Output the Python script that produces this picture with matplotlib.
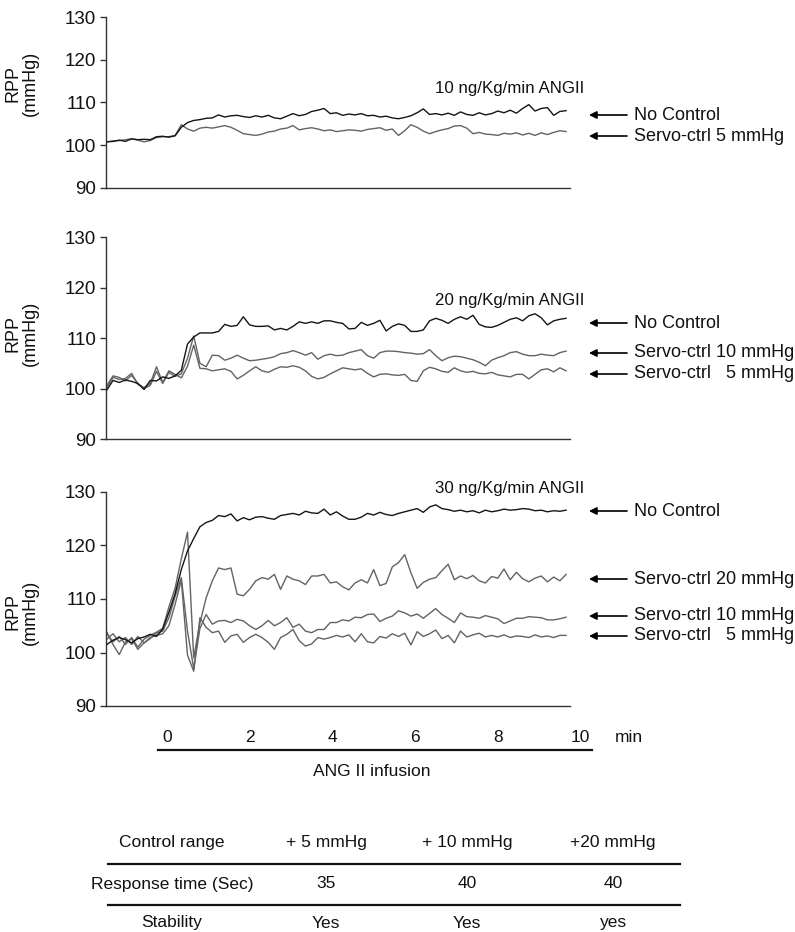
import numpy as np
import matplotlib
matplotlib.use("Agg")
import matplotlib.pyplot as plt
from matplotlib.lines import Line2D
from matplotlib.transforms import blended_transform_factory

plt.rcParams['font.family'] = ['Liberation Sans', 'DejaVu Sans']

# ---------------- data ----------------
time_min = np.linspace(-1.45, 9.65, 75)   # minutes relative to start of infusion

p1_no_control = [100.8,100.9,101.2,100.9,101.5,101.3,101.4,101.3,102.0,102.1,
                 101.9,102.2,104.2,105.3,105.8,106.0,106.3,106.4,107.1,106.6,
                 106.9,107.0,106.7,106.5,106.9,106.6,107.0,106.4,106.2,106.8,
                 107.4,106.9,107.2,107.9,108.2,108.6,107.4,107.6,107.0,107.3,
                 107.1,107.4,106.9,107.0,106.6,106.8,106.4,106.2,106.5,106.9,
                 107.6,108.5,107.2,107.4,107.1,107.5,107.0,107.8,107.2,107.0,
                 107.6,107.1,107.4,108.0,107.6,108.2,107.5,108.6,109.5,108.0,
                 108.6,108.8,107.0,107.9,108.1]
p1_servo5 = [100.8,101.0,101.1,101.3,101.5,101.2,100.8,101.1,101.8,102.0,
             102.0,102.3,104.8,103.8,103.3,104.0,104.2,104.0,104.3,104.6,
             104.2,103.5,102.7,102.5,102.3,102.6,103.1,103.3,103.8,104.0,
             104.6,103.6,103.9,104.1,103.8,103.4,103.6,103.2,103.4,103.6,
             103.5,103.3,103.7,103.9,104.1,103.5,103.8,102.3,103.4,104.8,
             104.2,103.3,102.7,103.2,103.6,103.9,104.5,104.6,104.0,102.7,
             103.0,102.6,102.5,102.3,102.8,102.6,102.9,102.4,102.8,102.3,
             102.9,102.5,103.0,103.4,103.2]

p2_no_control = [99.7,101.6,101.2,101.7,101.4,101.0,99.8,101.6,101.5,102.3,
                 102.0,102.5,103.6,108.8,110.2,
                 111.0,111.0,111.0,111.3,112.7,112.3,112.5,114.2,112.6,112.3,112.3,
                 112.4,111.6,111.9,111.6,112.3,113.2,112.9,113.2,112.9,113.4,113.4,
                 113.1,112.9,111.8,111.9,113.1,112.5,112.9,113.5,111.4,112.3,
                 112.8,112.5,111.3,111.3,111.6,113.4,113.9,113.5,112.9,113.7,
                 114.2,113.7,114.5,112.7,112.2,112.1,112.5,113.1,113.7,114.0,
                 113.4,114.4,114.8,114.0,112.6,113.4,113.7,113.9]
p2_servo10 = [100.6,102.5,102.2,101.5,102.6,101.0,100.0,100.6,103.4,101.0,
              103.2,102.4,102.9,106.0,110.4,105.0,104.3,
              106.6,106.5,105.6,106.0,106.6,106.0,105.5,105.6,105.8,106.0,
              106.3,106.9,107.1,107.5,107.1,106.6,107.1,105.8,106.5,106.8,
              106.5,106.6,107.1,107.4,107.7,106.5,106.0,107.1,107.4,107.4,
              107.3,107.1,107.0,106.8,106.9,107.7,106.5,105.5,106.1,106.4,
              106.3,106.0,105.7,105.2,104.5,105.6,106.1,106.5,107.1,107.3,
              106.8,106.5,106.5,106.8,106.6,106.5,107.1,107.4]
p2_servo5 = [100.2,102.2,101.8,102.0,103.0,100.8,100.2,101.0,104.3,101.2,
             103.5,102.8,102.1,104.4,108.6,104.0,103.9,
             103.5,103.7,103.9,103.4,101.9,102.6,103.5,104.3,103.5,103.2,
             103.8,104.3,104.2,104.5,104.2,103.5,102.4,101.9,102.2,102.9,
             103.5,104.1,103.9,103.7,103.9,103.0,102.3,102.8,102.9,102.7,
             102.6,102.8,101.6,101.4,103.5,104.2,103.9,103.4,103.2,104.1,
             103.5,103.2,103.4,103.0,102.9,103.2,102.7,102.5,102.3,102.8,
             102.8,101.9,102.8,103.7,103.9,103.3,104.1,103.5]

p3_no_control = [101.5,102.3,102.8,102.4,101.8,102.6,102.9,103.4,103.0,104.4,
                 107.5,111.0,115.5,119.0,121.3,123.5,124.3,124.7,125.6,125.4,
                 125.9,124.6,125.2,124.8,125.3,125.4,125.1,124.9,125.6,125.8,
                 126.0,125.7,126.4,126.1,126.0,126.8,125.7,
                 126.3,125.5,124.9,124.9,125.3,126.0,125.7,126.2,125.8,125.6,
                 126.0,126.3,126.6,126.9,126.2,127.2,127.6,126.9,126.7,126.4,
                 126.6,126.3,126.5,126.1,126.6,126.3,126.5,126.8,126.6,126.7,
                 126.9,126.8,126.5,126.6,126.3,126.5,126.4,126.6]
p3_servo20 = [103.5,102.0,103.0,101.5,102.8,101.0,102.5,103.2,103.8,104.5,
              108.5,112.0,117.5,122.5,99.0,105.5,
              110.2,113.4,115.8,115.5,115.8,110.9,110.6,111.8,113.4,114.0,
              113.7,114.6,111.8,114.3,113.7,113.4,112.7,114.3,114.3,114.6,113.0,
              113.2,112.3,111.7,113.0,113.6,113.0,115.5,112.5,112.9,116.0,
              116.8,118.3,114.9,112.0,113.1,113.7,114.0,115.3,116.5,113.6,
              114.3,113.8,114.4,113.4,113.0,114.2,113.9,115.6,113.6,115.0,
              113.8,113.2,113.9,114.3,113.2,114.1,113.4,114.6]
p3_servo10 = [102.5,103.5,102.0,102.8,101.5,103.0,101.8,102.6,103.6,104.0,
              106.5,110.5,114.0,104.0,97.0,104.5,
              107.1,105.3,105.9,106.0,105.6,106.2,105.9,105.0,104.3,105.0,
              106.0,105.0,105.6,106.5,104.7,105.3,104.0,103.7,104.3,104.3,105.6,
              105.6,106.1,105.9,106.6,106.5,107.1,107.2,105.8,106.4,106.8,
              107.8,107.4,106.8,107.2,106.4,107.3,108.2,107.1,106.4,105.6,
              107.4,106.7,106.6,106.4,106.9,106.6,106.3,105.4,105.9,106.4,
              106.4,106.7,106.6,106.5,106.1,106.1,106.3,106.6]
p3_servo5 = [103.8,101.5,99.6,102.0,102.5,100.6,101.8,102.8,103.2,103.5,
             105.0,109.0,113.5,99.5,96.5,106.5,
             104.7,103.7,104.0,101.9,103.1,103.4,101.9,102.8,103.4,102.8,
             101.9,100.6,102.8,103.4,104.3,102.2,101.2,101.6,102.8,102.5,102.8,
             103.2,102.9,103.3,102.0,103.5,102.0,101.8,103.0,102.7,103.5,
             103.0,103.6,101.4,103.9,103.0,103.5,104.2,102.6,103.2,101.8,
             104.0,102.9,103.3,103.6,102.9,103.2,102.9,103.3,102.8,103.1,
             103.0,102.8,103.3,102.9,103.1,102.8,103.2,103.2]

panel_titles = ["10 ng/Kg/min ANGII", "20 ng/Kg/min ANGII", "30 ng/Kg/min ANGII"]
panel_series = [
    [("No Control", p1_no_control), ("Servo-ctrl 5 mmHg", p1_servo5)],
    [("No Control", p2_no_control), ("Servo-ctrl 10 mmHg", p2_servo10),
     ("Servo-ctrl   5 mmHg", p2_servo5)],
    [("No Control", p3_no_control), ("Servo-ctrl 20 mmHg", p3_servo20),
     ("Servo-ctrl 10 mmHg", p3_servo10), ("Servo-ctrl   5 mmHg", p3_servo5)],
]
y_ticks = [90, 100, 110, 120, 130]
time_ticks = [0, 2, 4, 6, 8, 10]
time_tick_labels = ["0", "2", "4", "6", "8", "10"]

table_header = ["Control range", "+ 5 mmHg", "+ 10 mmHg", "+20 mmHg"]
table_rows = [["Response time (Sec)", "35", "40", "40"],
              ["Stability", "Yes", "Yes", "yes"]]

# ---------------- layout ----------------
W, H = 795, 932
fig = plt.figure(figsize=(W / 100, H / 100), dpi=100)
fig.patch.set_facecolor("white")

def fx(px):
    return px / W

def fy(py):
    return 1 - py / H

def ftext(px, py, s, **kw):
    kw.setdefault("fontsize", 12.5)
    kw.setdefault("va", "center")
    return fig.text(fx(px), fy(py), s, **kw)

ax_left, ax_right = 106, 570
panel_box = [(17, 188), (237, 439), (492, 706)]
title_y = [89, 300, 488]
arrow_y = [[115, 136], [323, 353, 374], [511, 579, 616, 636]]
ylabel_y = [83, 333, 612]

AX_COL = "#333333"
BLACK = "#151515"
GREY = "#636363"

axes = []
for i, (top, bot) in enumerate(panel_box):
    ax = fig.add_axes([fx(ax_left), fy(bot), fx(ax_right) - fx(ax_left),
                       (bot - top) / H])
    axes.append(ax)
    for j, (name, vals) in enumerate(panel_series[i]):
        ax.plot(time_min, vals, color=BLACK if j == 0 else GREY,
                lw=1.0, zorder=3 if j == 0 else 2)
    ax.set_xlim(-1.47, 9.745)
    ax.set_ylim(90, 130)
    ax.set_yticks(y_ticks)
    ax.set_xticks([])
    for s in ("top", "right"):
        ax.spines[s].set_visible(False)
    for s in ("left", "bottom"):
        ax.spines[s].set_color(AX_COL)
        ax.spines[s].set_linewidth(1.0)
    ax.tick_params(axis="y", direction="out", length=4.5, width=1.0,
                   color=AX_COL, pad=2.5, labelsize=13.5, labelcolor="#111111")
    ax.patch.set_alpha(0)

    ftext(22, ylabel_y[i], "RPP\n(mmHg)", rotation=90, ha="center",
          fontsize=13, linespacing=1.05, color="#111111")
    ftext(435, title_y[i], panel_titles[i], ha="left", fontsize=12.2,
          color="#111111")
    for (name, _), ay in zip(panel_series[i], arrow_y[i]):
        fig.add_artist(matplotlib.patches.FancyArrowPatch(
            (fx(627), fy(ay)), (fx(589), fy(ay)), transform=fig.transFigure,
            arrowstyle="-|>", mutation_scale=11, lw=1.2, color="black",
            shrinkA=0, shrinkB=0))
        ftext(634, ay, name, ha="left", fontsize=13, color="#111111")

# time axis below the bottom panel
ax3 = axes[-1]
tr = blended_transform_factory(ax3.transData, fig.transFigure)
fig.add_artist(Line2D([fx(158), fx(592)], [fy(750), fy(750)],
                      transform=fig.transFigure, color="#111111", lw=1.6))
for t, lab in zip(time_ticks, time_tick_labels):
    fig.text(t, fy(737), lab, transform=tr, ha="center", va="center",
             fontsize=12.5, color="#111111")
ftext(629, 737, "min", ha="center", fontsize=12.5, color="#111111")
ftext(372, 771, "ANG II infusion", ha="center", fontsize=12.5, color="#111111")

# table
col_x = [172, 326, 467, 613]
row_y = [843, 884, 923]
line_y = [864, 905]
for cx, txt in zip(col_x, table_header):
    ftext(cx, row_y[0], txt, ha="center", fontsize=12.5, color="#111111")
for r, row in enumerate(table_rows):
    for cx, txt in zip(col_x, row):
        ftext(cx, row_y[r + 1], txt, ha="center", fontsize=12.5,
              color="#111111")
for ly in line_y:
    fig.add_artist(Line2D([fx(108), fx(680)], [fy(ly), fy(ly)],
                          transform=fig.transFigure, color="#111111", lw=1.6))

fig.savefig("out.png", dpi=100, facecolor="white")
